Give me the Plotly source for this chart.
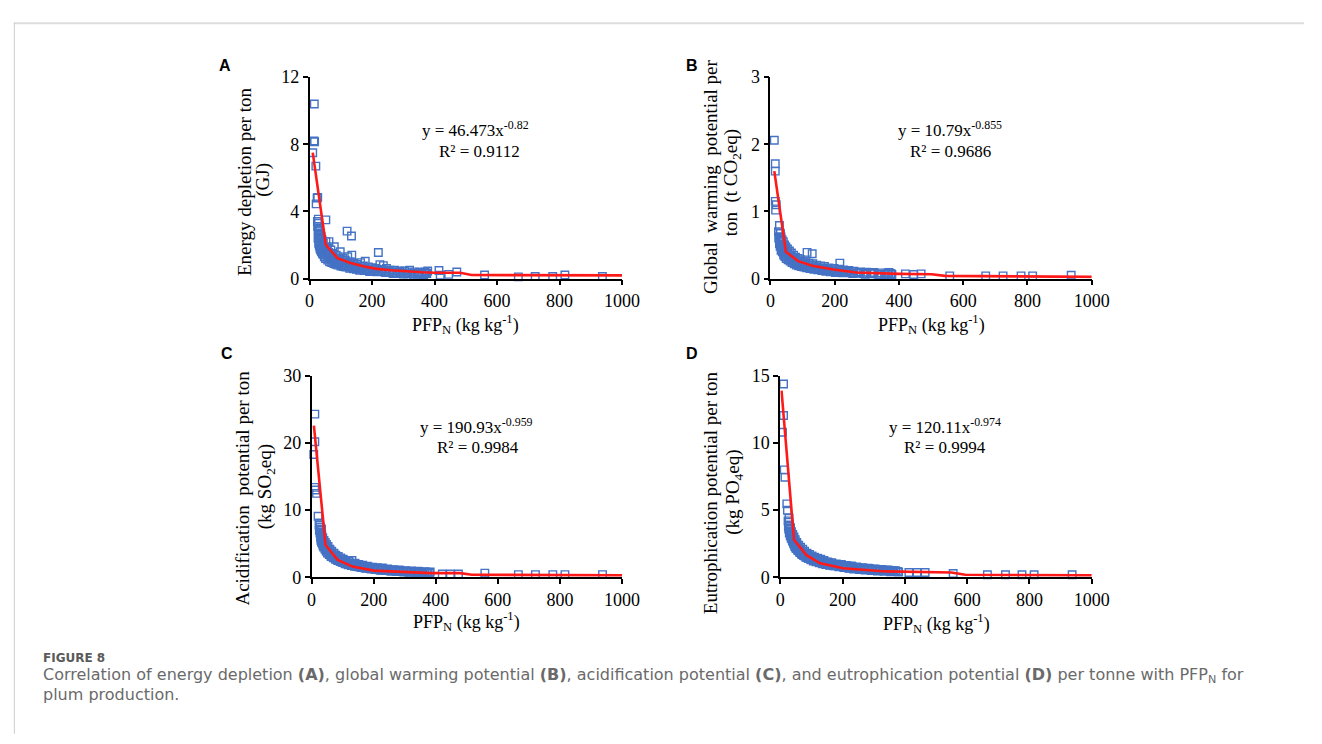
import plotly.graph_objects as go

W, H = 1322, 744

# ---- observations: (PFP_N, impact per ton) ----
energy_pts = [
    (10, 7.5), (14, 8.2), (16, 8.15), (15, 10.4), (20, 6.7), (21, 4.45), (24, 4.8), (26, 4.84),
    (28, 3.54), (52, 3.5), (25, 3.4), (26, 3.1), (27, 2.9), (28, 3.3), (29, 2.6), (30, 2.8),
    (31, 2.4), (32, 3.0), (33, 2.2), (34, 2.7), (36, 2.0), (37, 2.5), (39, 1.9), (40, 2.3),
    (42, 1.8), (44, 2.1), (46, 1.6), (48, 1.9), (50, 1.5), (52, 2.2), (55, 1.4), (57, 1.8),
    (60, 1.3), (62, 2.2), (65, 1.25), (68, 1.7), (70, 1.15), (73, 1.5), (76, 1.1), (79, 1.9),
    (82, 1.0), (85, 1.4), (88, 0.95), (92, 1.3), (95, 0.9), (98, 1.6), (102, 0.85), (106, 1.2),
    (110, 0.8), (114, 1.1), (118, 0.75), (120, 2.83), (122, 1.3), (126, 0.7), (130, 1.0),
    (134, 2.54), (135, 1.4), (138, 0.65), (142, 0.9), (148, 0.62), (152, 0.85), (158, 0.58),
    (163, 0.95), (168, 0.55), (172, 0.75), (178, 1.03), (182, 0.5), (188, 0.7), (195, 0.47),
    (200, 0.65), (208, 0.45), (212, 0.6), (220, 1.55), (222, 0.42), (225, 0.83), (230, 0.55),
    (236, 0.77), (240, 0.4), (246, 0.6), (252, 0.37), (258, 0.5), (265, 0.35), (272, 0.5),
    (280, 0.33), (288, 0.45), (296, 0.3), (305, 0.45), (312, 0.28), (320, 0.5), (328, 0.3),
    (336, 0.4), (345, 0.27), (352, 0.38), (360, 0.25), (368, 0.4), (375, 0.3), (378, 0.45),
    (27, 2.4), (29, 2.1), (31, 1.95), (33, 1.8), (35, 1.7), (38, 1.6), (41, 1.5), (43, 1.45),
    (47, 1.3), (51, 1.2), (54, 1.7), (58, 1.1), (61, 1.55), (64, 1.0), (67, 1.4), (71, 0.95),
    (74, 1.3), (78, 0.9), (81, 1.2), (84, 0.85), (88, 1.15), (91, 0.8), (96, 1.1), (100, 0.75),
    (104, 1.0), (108, 0.72), (112, 0.95), (116, 0.68), (124, 0.9), (128, 0.62), (133, 0.8),
    (140, 0.58), (145, 0.75), (150, 0.55), (155, 0.7), (160, 0.5), (166, 0.65), (175, 0.48),
    (185, 0.58), (192, 0.42), (203, 0.55), (215, 0.4), (228, 0.48), (243, 0.36), (255, 0.42),
    (268, 0.3), (285, 0.38), (300, 0.27), (315, 0.35), (332, 0.25), (348, 0.32), (365, 0.22),
    (372, 0.35),
    (414, 0.48), (418, 0.2), (445, 0.25), (471, 0.39), (560, 0.21), (668, 0.1), (722, 0.12),
    (778, 0.12), (817, 0.21), (937, 0.12),
]
gwp_pts = [
    (12, 2.06), (15, 1.71), (15, 1.6), (15, 1.15), (16, 1.02), (18, 1.1), (28, 0.79), (31, 0.67),
    (25, 0.7), (27, 0.62), (29, 0.55), (30, 0.68), (32, 0.5), (33, 0.62), (35, 0.45), (36, 0.58),
    (38, 0.42), (40, 0.55), (42, 0.38), (44, 0.5), (46, 0.35), (48, 0.47), (50, 0.32), (53, 0.44),
    (56, 0.3), (59, 0.41), (62, 0.28), (65, 0.38), (68, 0.26), (72, 0.35), (75, 0.24), (78, 0.32),
    (82, 0.22), (86, 0.3), (90, 0.21), (94, 0.28), (98, 0.19), (102, 0.26), (106, 0.18),
    (110, 0.25), (114, 0.39), (116, 0.17), (120, 0.23), (125, 0.16), (130, 0.37), (132, 0.22),
    (138, 0.15), (144, 0.2), (150, 0.14), (156, 0.19), (162, 0.13), (168, 0.18), (175, 0.12),
    (182, 0.16), (190, 0.11), (198, 0.15), (205, 0.1), (212, 0.14), (216, 0.23), (220, 0.1),
    (228, 0.13), (236, 0.09), (244, 0.12), (252, 0.085), (260, 0.11), (270, 0.08), (280, 0.1),
    (290, 0.075), (300, 0.095), (312, 0.07), (322, 0.09), (335, 0.065), (345, 0.085),
    (355, 0.06), (365, 0.08), (369, 0.09), (378, 0.06),
    (26, 0.6), (28, 0.52), (30, 0.48), (31, 0.6), (33, 0.42), (34, 0.55), (37, 0.4), (39, 0.5),
    (41, 0.35), (43, 0.45), (45, 0.33), (47, 0.42), (49, 0.3), (52, 0.38), (55, 0.28), (58, 0.35),
    (61, 0.26), (64, 0.33), (67, 0.24), (70, 0.3), (74, 0.22), (77, 0.28), (81, 0.2), (84, 0.26),
    (88, 0.19), (92, 0.24), (96, 0.18), (100, 0.22), (104, 0.17), (108, 0.21), (112, 0.16),
    (118, 0.2), (123, 0.15), (128, 0.19), (135, 0.14), (141, 0.17), (147, 0.13), (153, 0.16),
    (160, 0.12), (166, 0.15), (172, 0.11), (179, 0.14), (186, 0.1), (194, 0.13), (202, 0.09),
    (210, 0.12), (225, 0.085), (240, 0.11), (256, 0.075), (275, 0.09), (295, 0.065), (318, 0.08),
    (340, 0.055), (360, 0.07), (375, 0.075),
    (420, 0.07), (446, 0.06), (469, 0.07), (558, 0.04), (670, 0.04), (724, 0.04), (780, 0.04),
    (816, 0.04), (936, 0.05),
]
acid_pts = [
    (7, 18.3), (10.5, 24.3), (10.5, 20.2), (10, 13.4), (12, 13.0), (16, 12.5), (21, 9.1),
    (26, 8.1), (32, 7.2), (24, 7.8), (28, 7.5), (29, 6.5), (30, 7.0), (31, 5.8), (33, 6.3),
    (34, 5.4), (36, 5.9), (38, 5.0), (40, 5.5), (42, 4.6), (44, 5.2), (46, 4.2), (48, 4.9),
    (50, 3.9), (53, 4.6), (56, 3.6), (59, 4.2), (62, 3.3), (65, 3.9), (68, 3.1), (72, 3.6),
    (75, 2.9), (78, 3.3), (82, 2.7), (86, 3.1), (90, 2.5), (94, 2.9), (98, 2.3), (102, 2.7),
    (106, 2.2), (110, 2.5), (115, 2.0), (120, 2.4), (125, 1.9), (130, 2.5), (135, 1.75),
    (140, 2.1), (146, 1.6), (152, 1.9), (158, 1.5), (165, 1.8), (172, 1.4), (180, 1.65),
    (188, 1.3), (196, 1.5), (204, 1.2), (212, 1.45), (220, 1.1), (228, 1.4), (236, 1.05),
    (245, 1.25), (254, 0.95), (263, 1.15), (272, 0.9), (282, 1.1), (292, 0.85), (302, 1.0),
    (312, 0.8), (322, 0.95), (333, 0.75), (343, 0.9), (354, 0.7), (365, 0.85), (375, 0.7),
    (382, 0.8),
    (25, 7.0), (27, 6.6), (29, 6.0), (30, 5.5), (32, 5.2), (33, 5.7), (35, 5.0), (37, 4.7),
    (39, 4.5), (41, 4.8), (43, 4.2), (45, 4.5), (47, 3.9), (49, 4.3), (51, 3.6), (54, 4.0),
    (57, 3.4), (60, 3.8), (63, 3.1), (66, 3.5), (70, 2.9), (73, 3.3), (77, 2.7), (80, 3.0),
    (84, 2.5), (88, 2.8), (92, 2.35), (96, 2.6), (100, 2.2), (104, 2.45), (108, 2.0), (112, 2.3),
    (118, 1.85), (123, 2.15), (128, 1.75), (133, 2.0), (138, 1.65), (144, 1.85), (150, 1.55),
    (156, 1.7), (162, 1.45), (168, 1.6), (176, 1.35), (184, 1.5), (192, 1.25), (200, 1.4),
    (208, 1.15), (216, 1.3), (224, 1.05), (232, 1.2), (241, 1.0), (250, 1.1), (259, 0.92),
    (268, 1.05), (278, 0.85), (287, 0.98), (297, 0.8), (307, 0.9), (317, 0.75), (328, 0.85),
    (338, 0.72), (349, 0.8), (360, 0.68), (370, 0.78), (380, 0.65),
    (421, 0.5), (447, 0.5), (473, 0.5), (558, 0.63), (666, 0.4), (721, 0.4), (777, 0.4),
    (816, 0.4), (937, 0.4),
]
eutro_pts = [
    (7, 10.8), (10.5, 14.4), (10.5, 12.05), (12.6, 8.0), (15, 7.45), (21, 5.47), (23, 5.0),
    (28, 4.4), (28, 4.1), (26, 3.8), (30, 3.9), (31, 3.4), (33, 3.7), (34, 3.1), (36, 3.4),
    (38, 2.85), (40, 3.2), (42, 2.6), (44, 3.0), (46, 2.4), (48, 2.8), (50, 2.2), (53, 2.6),
    (56, 2.05), (59, 2.4), (62, 1.9), (65, 2.25), (68, 1.75), (72, 2.1), (75, 1.62), (78, 1.95),
    (82, 1.5), (86, 1.8), (90, 1.4), (94, 1.7), (98, 1.3), (102, 1.6), (106, 1.22), (110, 1.5),
    (115, 1.15), (120, 1.42), (125, 1.08), (130, 1.35), (135, 1.0), (140, 1.25), (146, 0.95),
    (152, 1.15), (158, 0.9), (165, 1.08), (172, 0.85), (180, 1.0), (188, 0.78), (196, 0.95),
    (204, 0.72), (212, 0.88), (220, 0.68), (228, 0.84), (236, 0.62), (245, 0.78), (254, 0.58),
    (263, 0.72), (272, 0.54), (282, 0.68), (292, 0.5), (302, 0.62), (312, 0.47), (322, 0.58),
    (333, 0.44), (343, 0.55), (354, 0.42), (360, 0.44), (365, 0.5), (376, 0.44), (380, 0.4),
    (25, 4.2), (27, 3.6), (29, 3.3), (30, 3.6), (32, 3.1), (33, 3.4), (35, 2.9), (37, 3.1),
    (39, 2.7), (41, 2.9), (43, 2.5), (45, 2.7), (47, 2.3), (49, 2.5), (51, 2.15), (54, 2.35),
    (57, 2.0), (60, 2.2), (63, 1.85), (66, 2.05), (70, 1.7), (73, 1.9), (77, 1.6), (80, 1.75),
    (84, 1.5), (88, 1.65), (92, 1.4), (96, 1.55), (100, 1.32), (104, 1.45), (108, 1.25),
    (112, 1.38), (118, 1.18), (123, 1.3), (128, 1.1), (133, 1.22), (138, 1.04), (144, 1.15),
    (150, 0.98), (156, 1.08), (162, 0.92), (168, 1.0), (176, 0.86), (184, 0.95), (192, 0.8),
    (200, 0.88), (208, 0.75), (216, 0.82), (224, 0.7), (232, 0.78), (241, 0.66), (250, 0.72),
    (259, 0.62), (268, 0.68), (278, 0.58), (287, 0.64), (297, 0.55), (307, 0.6), (317, 0.52),
    (328, 0.56), (338, 0.5), (349, 0.53), (360, 0.47), (370, 0.5),
    (413, 0.36), (439, 0.36), (465, 0.36), (555, 0.29), (665, 0.19), (723, 0.19), (776, 0.19),
    (815, 0.19), (937, 0.19),
]

# ---- power-law trendlines as plotted (PFP_N, fitted value) ----
energy_fit = [(10, 7.5), (52, 2.0), (89, 1.22), (131, 0.93), (175, 0.72), (215, 0.58),
              (260, 0.5), (310, 0.43), (360, 0.38), (400, 0.35), (482, 0.35), (518, 0.21),
              (700, 0.2), (1000, 0.19)]
gwp_fit = [(12, 1.6), (48, 0.4), (86, 0.26), (130, 0.19), (196, 0.135), (267, 0.09),
           (400, 0.07), (502, 0.065), (543, 0.04), (1000, 0.025)]
acid_fit = [(7.5, 22.6), (45, 4.8), (84, 2.6), (132, 1.6), (200, 1.0), (290, 0.78),
            (384, 0.63), (479, 0.63), (516, 0.39), (1000, 0.3)]
eutro_fit = [(4, 13.9), (44, 2.8), (84, 1.65), (128, 1.04), (202, 0.68), (339, 0.44),
             (549, 0.36), (594, 0.19), (1000, 0.15)]

panel_letters = ["A", "B", "C", "D"]
y_title_lines = [
    ("Energy depletion per ton", "(GJ)"),
    ("Global  warming  potential per", "ton  (t CO<sub>2</sub>eq)"),
    ("Acidification  potential per ton", "(kg SO<sub>2</sub>eq)"),
    ("Eutrophication potential per ton", "(kg PO<sub>4</sub>eq)"),
]
equations = ["y = 46.473x<sup>-0.82</sup>", "y = 10.79x<sup>-0.855</sup>",
             "y = 190.93x<sup>-0.959</sup>", "y = 120.11x<sup>-0.974</sup>"]
r_squared = ["R² = 0.9112", "R² = 0.9686", "R² = 0.9984", "R² = 0.9994"]
y_max = [12, 3, 30, 15]
y_step = [4, 1, 10, 5]
x_ticks = [0, 200, 400, 600, 800, 1000]

series = [energy_pts, gwp_pts, acid_pts, eutro_pts]
fits = [energy_fit, gwp_fit, acid_fit, eutro_fit]

# pixel layout of each panel: (x0, x1, y_top, y_bottom)
boxes = [(310, 628, 69, 276), (779, 1106, 69, 276),
         (312, 628, 376, 583), (789, 1106, 376, 583)]
letter_pos = [(224, 57), (699, 57), (226, 353), (699, 353)]
ytitle_x = [(243, 263), (718, 740), (242, 265), (718, 742)]
ytitle_y = [(176, 174), (172, 178), (491, 490), (496, 496)]
eq_pos = [(479, 122), (962, 122), (480, 427), (957, 427)]
r2_pos = [(483, 145), (962, 145), (481, 450), (957, 450)]
xtitle_y = [323, 323, 628, 630]

SERIF = "Liberation Serif"
fx = lambda px: px / W
fy = lambda py: 1 - py / H

fig = go.Figure()
annotations = []
for i in range(4):
    xa = "x" if i == 0 else f"x{i+1}"
    ya = "y" if i == 0 else f"y{i+1}"
    px, py = zip(*series[i])
    lx_, ly_ = zip(*fits[i])
    fig.add_trace(go.Scatter(
        x=px, y=py, mode="markers", xaxis=xa, yaxis=ya, showlegend=False,
        marker=dict(symbol="square-open", size=7.5, color="#4472C4",
                    line=dict(width=1.4, color="#4472C4")),
        cliponaxis=False))
    fig.add_trace(go.Scatter(
        x=lx_, y=ly_, mode="lines", xaxis=xa, yaxis=ya, showlegend=False,
        line=dict(color="#FF1A1A", width=2.6), cliponaxis=False))

    x0, x1, yt, yb = boxes[i]
    axis_common = dict(showline=True, linecolor="black", linewidth=1.6, ticks="outside",
                       ticklen=5, tickwidth=1.5, tickcolor="black", showgrid=False,
                       zeroline=False, tickfont=dict(family=SERIF, size=18, color="black"))
    fig.update_layout({
        ("xaxis" if i == 0 else f"xaxis{i+1}"): dict(
            domain=[fx(x0), fx(x1)], anchor=ya, range=[0, 1000],
            tickvals=x_ticks, **axis_common),
        ("yaxis" if i == 0 else f"yaxis{i+1}"): dict(
            domain=[fy(yb), fy(yt)], anchor=xa, range=[0, y_max[i]],
            dtick=y_step[i], tick0=0, **axis_common),
    })

    lx, ly = letter_pos[i]
    annotations.append(dict(x=fx(lx), y=fy(ly), text=f"<b>{panel_letters[i]}</b>",
                            font=dict(family="Liberation Sans", size=16, color="black")))
    for k in range(2):
        annotations.append(dict(x=fx(ytitle_x[i][k]), y=fy(ytitle_y[i][k]),
                                text=y_title_lines[i][k], textangle=-90,
                                font=dict(family=SERIF, size=19, color="black")))
    ex, ey = eq_pos[i]
    annotations.append(dict(x=fx(ex), y=fy(ey), text=equations[i],
                            font=dict(family=SERIF, size=17, color="black")))
    rx, ry = r2_pos[i]
    annotations.append(dict(x=fx(rx), y=fy(ry), text=r_squared[i],
                            font=dict(family=SERIF, size=17, color="black")))
    annotations.append(dict(x=fx((x0 + x1) / 2), y=fy(xtitle_y[i]),
                            text="PFP<sub>N</sub> (kg kg<sup>-1</sup>)",
                            font=dict(family=SERIF, size=18, color="black")))

# figure caption
annotations.append(dict(x=fx(37), y=fy(666), xanchor="left", text="<b>FIGURE 8</b>",
                        font=dict(family="DejaVu Sans", size=12, color="#5a5a5a")))
annotations.append(dict(
    x=fx(37), y=fy(684), xanchor="left",
    text="Correlation of energy depletion <b>(A)</b>, global warming potential <b>(B)</b>, "
         "acidification potential <b>(C)</b>, and eutrophication potential <b>(D)</b> per "
         "tonne with PFP<sub>N</sub> for",
    font=dict(family="DejaVu Sans", size=16, color="#6a6a6a")))
annotations.append(dict(x=fx(37), y=fy(703), xanchor="left", text="plum production.",
                        font=dict(family="DejaVu Sans", size=16, color="#6a6a6a")))

for a in annotations:
    a.setdefault("xref", "paper")
    a.setdefault("yref", "paper")
    a.setdefault("showarrow", False)
    a.setdefault("xanchor", "center")
    a.setdefault("yanchor", "middle")

shapes = [
    dict(type="line", xref="paper", yref="paper", x0=fx(9), x1=1, y0=fy(13.5), y1=fy(13.5),
         line=dict(color="#dddddd", width=2)),
    dict(type="line", xref="paper", yref="paper", x0=fx(9.5), x1=fx(9.5), y0=fy(13), y1=0,
         line=dict(color="#cccccc", width=1)),
]

fig.update_layout(width=W, height=H, margin=dict(l=0, r=0, t=0, b=0),
                  paper_bgcolor="white", plot_bgcolor="white",
                  annotations=annotations, shapes=shapes)

fig.write_html("out.html")
